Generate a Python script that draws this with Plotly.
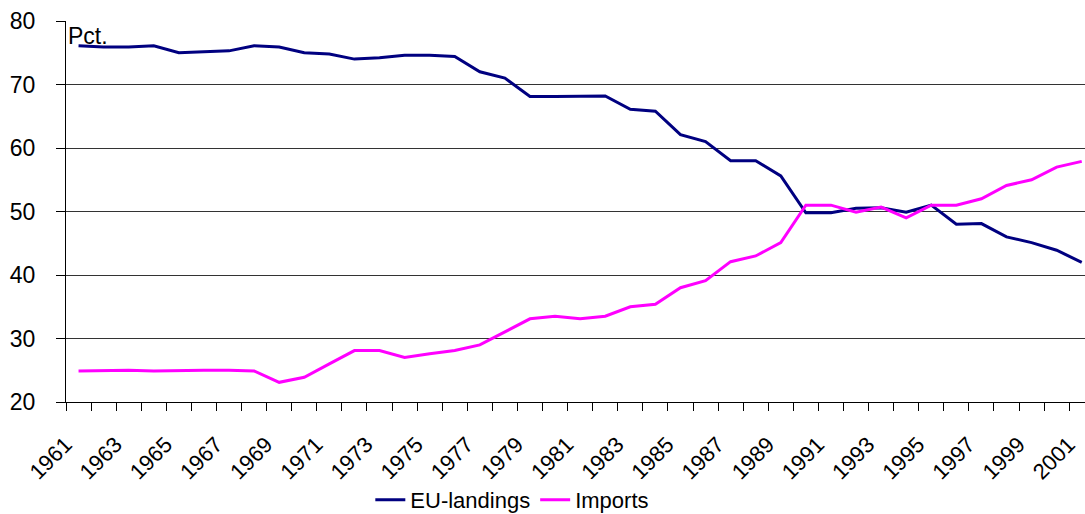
import plotly.graph_objects as go

years = list(range(1961, 2002))
eu_landings = [76.1, 75.9, 75.9, 76.1, 75.0, 75.2, 75.3, 76.1, 75.9, 75.0,
               74.8, 74.0, 74.2, 74.6, 74.6, 74.4, 72.0, 71.0, 68.1, 68.1,
               68.1, 68.2, 66.1, 65.8, 62.1, 61.0, 58.0, 58.0, 55.6, 49.8,
               49.8, 50.5, 50.6, 49.9, 51.0, 48.0, 48.1, 46.0, 45.1, 43.9,
               42.0]
imports = [24.9, 25.0, 25.0, 24.9, 25.0, 25.0, 25.0, 24.9, 23.1, 23.9,
           26.0, 28.1, 28.1, 27.0, 27.6, 28.1, 29.0, 31.1, 33.1, 33.5,
           33.1, 33.5, 35.0, 35.4, 38.0, 39.1, 42.1, 43.0, 45.1, 51.0,
           51.0, 49.9, 50.7, 49.0, 51.0, 51.0, 52.0, 54.1, 55.0, 57.0,
           57.9]
label_years = list(range(1961, 2002, 2))
y_ticks = [20, 30, 40, 50, 60, 70, 80]

FONT = "Liberation Sans, Arial, sans-serif"

fig = go.Figure()
fig.add_trace(go.Scatter(x=years, y=eu_landings, mode="lines", name="EU-landings",
                         line=dict(color="#000080", width=3)))
fig.add_trace(go.Scatter(x=years, y=imports, mode="lines", name="Imports",
                         line=dict(color="#FF00FF", width=3)))

fig.add_annotation(text="Pct.", xref="paper", yref="y", x=0, y=77.6,
                   xanchor="left", yanchor="middle", showarrow=False, xshift=0,
                   font=dict(family=FONT, size=23, color="#000"))

fig.update_layout(
    width=1085, height=514,
    margin=dict(l=66, r=0, t=21, b=112, autoexpand=False),
    paper_bgcolor="white", plot_bgcolor="white",
    font=dict(family=FONT, size=22, color="#000"),
    showlegend=True,
    legend=dict(orientation="h", x=0.438, xanchor="center", y=-0.257, yanchor="middle",
                font=dict(family=FONT, size=22), tracegroupgap=0),
)
fig.update_xaxes(
    range=[1960.5, 2001.13],
    tickmode="array", tickvals=label_years, ticktext=[str(y) for y in label_years],
    tickangle=-45, ticks="", showgrid=False, zeroline=False,
    showline=True, linecolor="#000", linewidth=1,
    ticklabelstandoff=20, ticklabelshift=-13,
    minor=dict(tick0=1960.5, dtick=1, ticks="outside", ticklen=8, tickcolor="#000",
               tickwidth=1, showgrid=False),
    tickfont=dict(family=FONT, size=22),
)
fig.update_yaxes(
    range=[20, 80], tickvals=y_ticks, ticks="outside", ticklen=9, tickcolor="#000",
    showgrid=True, gridcolor="#333", gridwidth=1, zeroline=False,
    showline=True, linecolor="#000", linewidth=1, ticklabelstandoff=16,
    tickfont=dict(family=FONT, size=23),
)

fig.write_html("out.html",
               config={"displayModeBar": False},
               post_script="document.body.style.margin='0';document.body.style.overflow='hidden';")
